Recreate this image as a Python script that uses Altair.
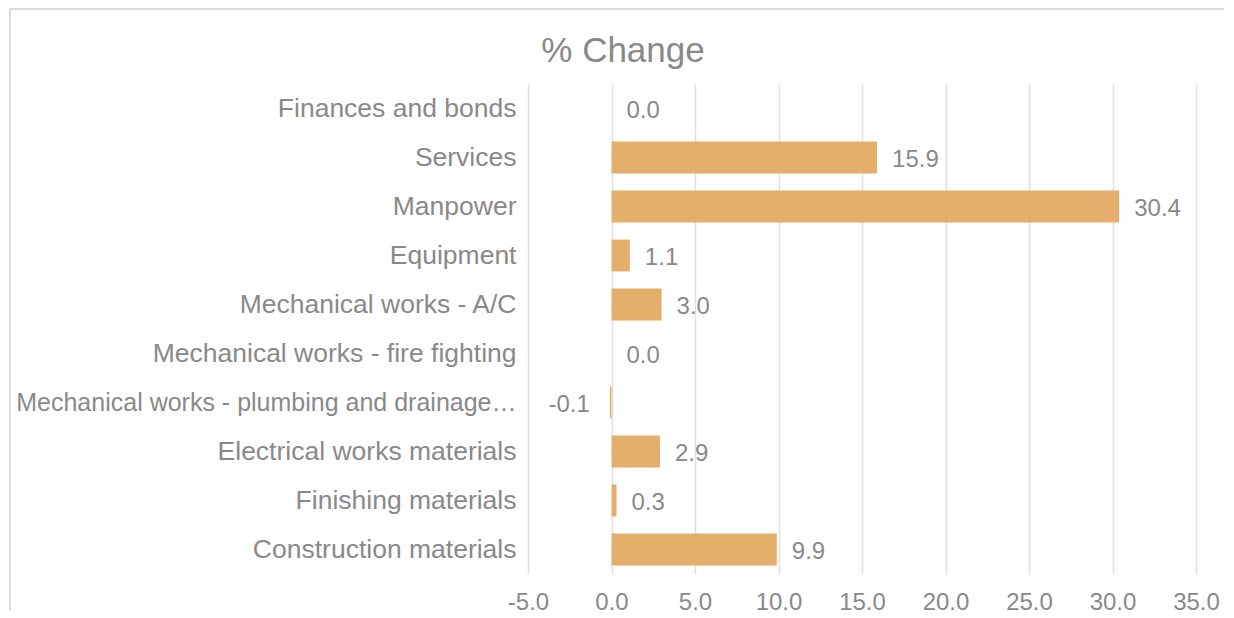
import altair as alt
import pandas as pd

categories = [
    "Finances and bonds",
    "Services",
    "Manpower",
    "Equipment",
    "Mechanical works - A/C",
    "Mechanical works - fire fighting",
    "Mechanical works - plumbing and drainage…",
    "Electrical works materials",
    "Finishing materials",
    "Construction materials",
]
values = [0.0, 15.9, 30.4, 1.1, 3.0, 0.0, -0.1, 2.9, 0.3, 9.9]
tick_values = [-5, 0, 5, 10, 15, 20, 25, 30, 35]
chart_title = "% Change"

df = pd.DataFrame({"category": categories, "value": values})

TEXT = "#898989"
BAR = "#E4AE6B"
FONT = "Liberation Sans"

y_enc = alt.Y(
    "category:N",
    sort=categories,
    title=None,
    scale=alt.Scale(paddingInner=0.35, paddingOuter=0.175),
    axis=alt.Axis(
        labelFontSize={"condition": {"test": "length(datum.label) > 40", "value": 25}, "value": 26.5},
        labelColor=TEXT,
        labelFont=FONT,
        labelPadding=12,
        labelLimit=600,
        ticks=False,
        domain=False,
        grid=False,
        minExtent=520,
        maxExtent=520,
    ),
)
x_enc = alt.X(
    "value:Q",
    title=None,
    scale=alt.Scale(domain=[-5, 35], nice=False, zero=False),
    axis=alt.Axis(
        values=tick_values,
        format=".1f",
        labelExpr="replace(datum.label, '\u2212', '-')",
        labelFontSize=24,
        labelColor=TEXT,
        labelFont=FONT,
        labelPadding=16,
        labelFlush=False,
        labelOverlap=False,
        ticks=False,
        domain=False,
        grid=True,
        gridColor="#E0E0E0",
        gridWidth=1.5,
    ),
)

base = alt.Chart(df).transform_calculate(
    lbl="replace(format(datum.value, '.1f'), '\u2212', '-')"
)
bars = base.mark_bar(color=BAR).encode(x=x_enc, y=y_enc)

pos_text = base.transform_filter("datum.value >= 0").mark_text(
    align="left", baseline="middle", dx=15, dy=2, fontSize=24, color=TEXT, font=FONT
).encode(
    x=alt.X("value:Q"),
    y=alt.Y("category:N", sort=categories),
    text=alt.Text("lbl:N"),
)
neg_text = base.transform_filter("datum.value < 0").mark_text(
    align="right", baseline="middle", dx=-20, dy=2, fontSize=24, color=TEXT, font=FONT
).encode(
    x=alt.X("value:Q"),
    y=alt.Y("category:N", sort=categories),
    text=alt.Text("lbl:N"),
)

frame_data = alt.Data(values=[{"a": 1}])
top_border = alt.Chart(frame_data).mark_rule(color="#DCDCDC", strokeWidth=2).encode(
    x=alt.value(-518), x2=alt.value(696), y=alt.value(-75)
)
left_border = alt.Chart(frame_data).mark_rule(color="#DCDCDC", strokeWidth=2).encode(
    x=alt.value(-518), y=alt.value(-75), y2=alt.value(526)
)

chart = (
    alt.layer(top_border, left_border, bars, pos_text, neg_text)
    .properties(
        width=668,
        height=490,
        title=alt.TitleParams(
            chart_title,
            fontSize=35,
            color=TEXT,
            font=FONT,
            fontWeight="normal",
            anchor="middle",
            frame="group",
            dx=-239,
            offset=-61,
        ),
        padding={"left": 0, "top": 0, "right": 0, "bottom": 0},
    )
    .configure_view(stroke=None)
)

chart.save("out.html", embed_options={"renderer": "svg", "actions": False})
